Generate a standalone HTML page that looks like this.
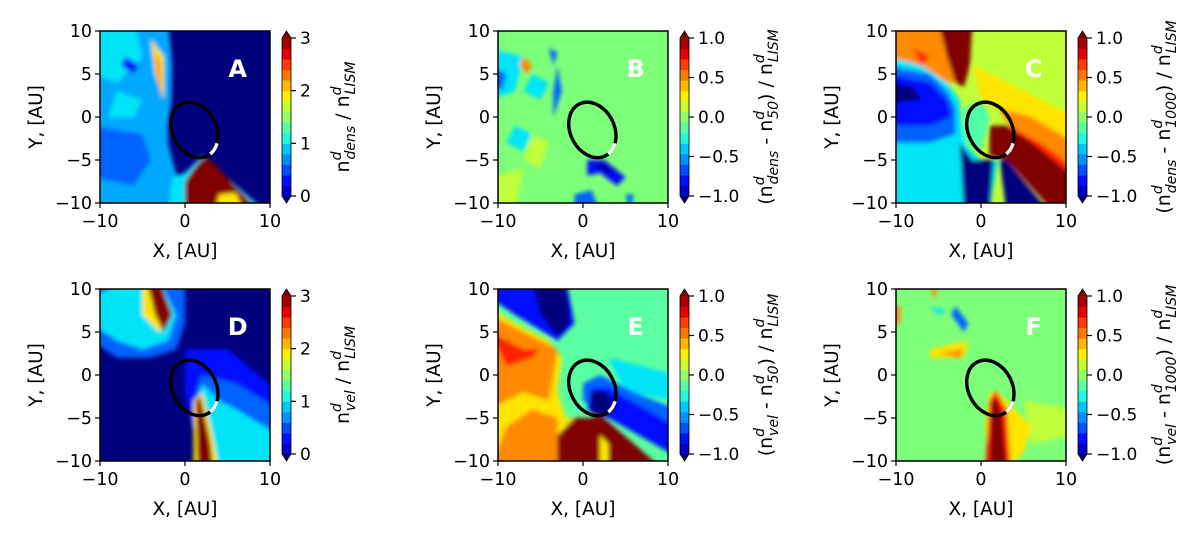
<!DOCTYPE html>
<html><head><meta charset="utf-8"><style>
html,body{margin:0;padding:0;background:#fff;}
svg{display:block;font-family:"DejaVu Sans","Liberation Sans",sans-serif;}
</style></head><body>
<svg id="fig" width="1200" height="544" viewBox="0 0 1200 544" xmlns="http://www.w3.org/2000/svg">
<defs><filter id="bl" x="-20%" y="-20%" width="140%" height="140%"><feGaussianBlur stdDeviation="2.2"/></filter></defs>
</svg>
<script>
const axisTicks=[-10,0,10];
const yTicks=[-10,-5,0,5,10];
const cbTicksA=[0,1,2,3];
const cbTicksB=[-1.0,-0.5,0.0,0.5,1.0];
const panelLetters=['A','B','C','D','E','F'];
const panelCol=[0,1,2,0,1,2];
const panelRow=[0,0,0,1,1,1];
const panelRange=[[0,3],[-1,1],[-1,1],[0,3],[-1,1],[-1,1]];
const cbSub1=['dens','dens','dens','vel','vel','vel'];
const cbSub2=['','50','1000','','50','1000'];

const DB='#00007f',B='#0010ff',LB='#0064ff',SB='#00a8ff',C='#00e4f8',CG='#50ffaa',G='#7dff7a',YG='#c0ff3a',Y='#ffe400',O='#ff8a00',R='#ff2400',DR='#800000';
const bgs=[DB,G,YG,DB,'#5affa2',G];
const layers=[
 [[SB,[[-10,10],[-2,10],[-1.5,6],[-1.6,2],[-2,-1],[-2,-3],[-1.2,-6],[-0.5,-8],[-1,-10],[-10,-10]]],
  [C,[[-10,10],[-6,10],[-5,7],[-8,4],[-10,5]]],[C,[[-8,3],[-5,2],[-6,0],[-9,0]]],
  [LB,[[-10,-1],[-5,-2],[-4,-5],[-6,-8],[-10,-7]]],[B,[[-7,7],[-5.5,6],[-6,5],[-7.5,6]]],
  [Y,[[-4,9],[-2.5,7],[-2.5,2],[-3.5,5]]],[R,[[-3.5,8],[-3,6],[-2.8,2.5],[-3.2,5]]],
  [C,[[-2,-10],[-1.5,-7],[0,-6.5],[2,-4.5],[9.5,-10]]],
  [DR,[[0,-10],[0,-7.5],[1,-6],[2,-4.8],[3,-5],[8.8,-10]]],[Y,[[4,-9],[6,-8.8],[7,-10],[3.5,-10]]]],
 [[C,[[-10,8],[-7,7],[-8,3],[-10,2]]],[C,[[-6,5],[-4,4],[-5,2],[-7,3]]],[C,[[-8,-1],[-6,-2],[-7,-4],[-9,-3]]],
  [YG,[[-6,-2],[-4,-3],[-5,-6],[-7,-5]]],[YG,[[-10,-7],[-7,-6],[-8,-10],[-10,-10]]],
  [LB,[[-10,6],[-9,5],[-9.5,3],[-10,4]]],[LB,[[-4,8],[-3,7.5],[-3.5,6]]],[LB,[[-3,6],[-2.5,3],[-3.5,0],[-3.5,3]]],
  [O,[[-7,7],[-6,6],[-6.5,5],[-7.5,6]]],
  [B,[[0.5,-5],[2.5,-5],[5,-7],[4,-8],[2,-6.5],[0.5,-6.8]]],[DB,[[1,-5.5],[2.5,-5.5],[4,-7],[2,-6]]],
  [LB,[[-1,-9],[1,-8.5],[2,-10],[-1,-10]]],[LB,[[5,-9],[6,-9],[5.5,-10]]]],
 [[Y,[[-1,6],[3,4],[10,0],[10,-4],[4,0],[0,2]]],[O,[[2,1],[6,0],[10,-3],[10,-6],[4,-2]]],
  [R,[[3,-1],[7,-3],[10,-6],[10,-8],[5,-4]]],
  [DR,[[1,-1],[3,-1],[6,-3],[10,-7],[10,-10],[8.5,-10],[3,-5],[1,-4.5]]],
  [O,[[-10,10],[-3,10],[-2,4],[-4,4],[-7,6],[-10,7]]],[R,[[-8,8],[-6,7],[-7,6]]],
  [DR,[[-5,10],[-1,10],[-1.3,6],[-2,3.5],[-3,4],[-4,7]]],
  [C,[[-10,7],[-7,6],[-4,4],[-2.5,2],[-2,-3],[0,-5],[2,-5],[1,-10],[-10,-10]]],
  [LB,[[-10,6],[-6,5],[-4,3],[-3,1],[-3,-2],[-6,-3],[-10,-3]]],
  [B,[[-10,5],[-6,4],[-4,2],[-3.5,0],[-6,-1],[-10,-1]]],[DB,[[-10,4],[-8,3.5],[-7,2],[-10,1.5]]],
  [DB,[[-2.5,-3],[-1,-5],[1.5,-5],[1,-10],[-2,-10]]],[DB,[[2.2,-5],[3,-5],[8,-10],[3,-10]]],
  [CG,[[-2,1],[0,2],[1,0],[0,-4],[-2,-3]]]],
 [[LB,[[-10,10],[0,10],[0,6],[-1,3],[-4,2],[-8,2],[-10,4]]],[C,[[-10,9],[-7,10],[-3,10],[-1,7],[-2,4],[-5,3],[-8,4],[-10,6]]],
  [Y,[[-5,10],[-3,10],[-2,7],[-3,5],[-5,7]]],[DR,[[-4.5,10],[-3,10],[-1.5,7],[-2.5,5],[-3.5,7]]],
  [B,[[0,3],[5,3],[10,-2],[10,-10],[2,-10],[0,-2]]],[LB,[[2,0],[6,-1],[10,-4],[10,-10],[3,-10],[1,-3]]],
  [C,[[2,-1],[4,-3],[6,-4],[10,-7],[10,-10],[4,-10],[1.5,-3]]],
  [Y,[[1,-10],[1,-3],[2,-2],[3,-6],[4,-10]]],[DR,[[1.5,-10],[1.3,-3],[1.8,-2.5],[3,-8],[3.3,-10]]]],
 [[B,[[-10,10],[-2,10],[-1,6],[-3,4],[-8,7],[-10,9]]],[DB,[[-6,10],[-2,10],[-1.5,6],[-3,4.5],[-5,7]]],
  [Y,[[-10,8],[-8,6],[-4,4],[-2.5,2],[-3,-2],[-2,-5],[0,-5],[1,-6],[1,-10],[-10,-10]]],
  [O,[[-10,7],[-5,4],[-3,3],[-3.5,0],[-4,-3],[-7,-2],[-10,-4]]],[R,[[-10,5],[-7,3],[-5,3],[-6,2],[-9,1]]],
  [O,[[-10,-10],[-9,-6],[-6,-4],[-3,-5],[-3,-10]]],
  [DR,[[-3,-10],[-3,-7],[-1,-5],[1,-5],[2,-4.6],[9.5,-10]]],[Y,[[2,-10],[2,-7],[3,-8],[3,-10]]],
  [C,[[3,2],[10,0],[10,-3],[5,-2]]],
  [LB,[[0,-1],[2,0],[6,-2],[10,-4],[10,-9],[3,-5],[0,-3]]],[B,[[1,-1.5],[3,-1.5],[10,-6],[10,-9.5],[3,-5],[0.5,-4]]],
  [DB,[[0.8,-2],[2.5,-1.8],[4,-3.5],[3,-4.8],[1,-4.5]]]],
 [[Y,[[-6,3],[-1.5,4],[-2,2],[-6,2]]],[O,[[-5,2.5],[-2,3],[-2.5,2]]],[O,[[-10,8],[-9.5,8],[-9.5,6],[-10,6]]],
  [O,[[-6,10],[-5,10],[-5.5,8.5]]],[LB,[[-3,8],[-1.5,6],[-2,5],[-3.5,7]]],[C,[[-6,8],[-4,7.5],[-5,7]]],
  [YG,[[5,-3],[10,-4],[10,-7],[6,-8]]],
  [Y,[[1,-10],[0.5,-6],[1,-2],[2,-2],[4,-4],[6,-6],[5,-9],[3,-10]]],
  [R,[[0.5,-10],[1,-3],[1.7,-1.8],[3,-4],[3.5,-10]]],[DR,[[1,-10],[1.3,-3],[1.8,-2.5],[2.5,-5],[3,-10]]]]
];
const jet=['#00007f','#0000c8','#0010ff','#0050ff','#0090ff','#00c8ff','#20f8e0','#5affa2','#90ff6a','#c8ff30','#fff000','#ffb800','#ff7800','#ff3c00','#e80000','#a80000','#800000'];

const NS='http://www.w3.org/2000/svg';
const fig=document.getElementById('fig');
function mk(tag,at,parent){const e=document.createElementNS(NS,tag);for(const k in at)e.setAttribute(k,at[k]);(parent||fig).appendChild(e);return e;}
const colX=[100,498,896],rowY=[31,289],W=170,H=172;

for(let p=0;p<6;p++){
 const x0=colX[panelCol[p]],y0=rowY[panelRow[p]];
 const sx=v=>x0+(v+10)/20*W, sy=v=>y0+(10-v)/20*H;
 const ex=v=>v>=10?11:(v<=-10?-11:v);
 const g=mk('g',{});
 
 
 const cp=mk('clipPath',{id:'c'+p},g);
 mk('rect',{x:x0,y:y0,width:W,height:H},cp);
 const cg=mk('g',{'clip-path':'url(#c'+p+')'},g);
 mk('rect',{x:x0,y:y0,width:W,height:H,fill:bgs[p]},cg);
 const fg=mk('g',{filter:'url(#bl)'},cg);
 layers[p].forEach(([col,pts])=>{
  const pl=mk('polygon',{points:pts.map(q=>sx(ex(q[0]))+','+sy(ex(q[1]))).join(' '),fill:col},fg);
  
  
 });
 const cx=sx(1.1),cy=sy(-1.5);
 const el=mk('ellipse',{cx:cx,cy:cy,rx:22,ry:29,fill:'none',stroke:'#000','stroke-width':3.4,transform:`rotate(-27 ${cx} ${cy})`},cg);
 
 
 const wa=mk('ellipse',{cx:cx,cy:cy,rx:22,ry:29,fill:'none',stroke:'#fff','stroke-width':3.4,pathLength:100,'stroke-dasharray':'0 15 8 100',transform:`rotate(-27 ${cx} ${cy})`},cg);
 
 
 const lt=mk('text',{x:sx(6.2),y:sy(5.7)+9,fill:'#fff','font-size':24,'font-weight':'bold','text-anchor':'middle'},g);
 lt.textContent=panelLetters[p];
 
 
 mk('rect',{x:x0,y:y0,width:W,height:H,fill:'none',stroke:'#000','stroke-width':1.5},g);
 axisTicks.forEach(t=>{
  mk('line',{x1:sx(t),x2:sx(t),y1:y0+H,y2:y0+H+5,stroke:'#000','stroke-width':1.2},g);
  const tx=mk('text',{x:sx(t),y:y0+H+24,'font-size':17.5,'text-anchor':'middle'},g);
  tx.textContent=t<0?'\u2212'+(-t):t;
  
  
 });
 yTicks.forEach(t=>{
  mk('line',{x1:x0-5,x2:x0,y1:sy(t),y2:sy(t),stroke:'#000','stroke-width':1.2},g);
  const tx=mk('text',{x:x0-8,y:sy(t)+6,'font-size':17.5,'text-anchor':'end'},g);
  tx.textContent=t<0?'\u2212'+(-t):t;
  
  
 });
 const xl=mk('text',{x:x0+W/2,y:y0+H+54,'font-size':18.5,'text-anchor':'middle'},g);
 xl.textContent='X, [AU]';
 
 
 const yl=mk('text',{x:0,y:0,'font-size':18.5,'text-anchor':'middle',transform:`translate(${x0-58},${y0+H/2}) rotate(-90)`},g);
 yl.textContent='Y, [AU]';
 
 
 const bx=x0+W+12,by=y0+7,bh=H-14,bw=9;
 const cb=mk('g',{},g);
 
 
 const n=jet.length-2;
 for(let i=0;i<n;i++){mk('rect',{x:bx,y:by+bh-(i+1)*bh/n,width:bw,height:bh/n+0.5,fill:jet[i+1]},cb);}
 mk('polygon',{points:`${bx},${by} ${bx+bw},${by} ${bx+bw/2},${by-7}`,fill:jet[jet.length-1]},cb);
 mk('polygon',{points:`${bx},${by+bh} ${bx+bw},${by+bh} ${bx+bw/2},${by+bh+7}`,fill:jet[0]},cb);
 mk('path',{d:`M${bx},${by} L${bx+bw/2},${by-7} L${bx+bw},${by} L${bx+bw},${by+bh} L${bx+bw/2},${by+bh+7} L${bx},${by+bh} Z`,fill:'none',stroke:'#000','stroke-width':0.8},cb);
 const [lo,hi]=panelRange[p];
 const ticks=hi===3?cbTicksA:cbTicksB;
 ticks.forEach(t=>{
  const yy=by+bh-(t-lo)/(hi-lo)*bh;
  mk('line',{x1:bx+bw,x2:bx+bw+5,y1:yy,y2:yy,stroke:'#000','stroke-width':1.2},cb);
  const tx=mk('text',{x:bx+bw+9,y:yy+6,'font-size':17,},cb);
  tx.textContent=hi===3?String(t):(t<0?'\u2212':'')+Math.abs(t).toFixed(1);
  
  
 });
 const lx=hi===3?bx+67:bx+92;
 const cl=mk('text',{x:0,y:0,'font-size':19,'text-anchor':'middle',transform:`translate(${lx},${by+bh/2}) rotate(-90)`},cb);
 
 
 const parts=[];
 const nd=(sub)=>{parts.push(['n',0,'']);parts.push(['d',-8,'s',false]);parts.push([sub,6,'s',true,true]);};
 if(cbSub2[p]){parts.push(['(',0,'']);nd(cbSub1[p]);parts.push([' - ',0,'']);nd(cbSub2[p]);parts.push([')',0,'']);}
 else nd(cbSub1[p]);
 parts.push([' / ',0,'']);nd('LISM');
 let prevShift=0;
 parts.forEach(q=>{
  const ts=document.createElementNS(NS,'tspan');
  ts.textContent=q[0];
  ts.setAttribute('dy',q[1]-prevShift);prevShift=q[1];
  if(q[2]==='s'){ts.setAttribute('font-size',14);ts.setAttribute('font-style','italic');}
  if(q[4]){ts.setAttribute('dx',-8);}
  cl.appendChild(ts);
 });
}
</script>
</body></html>
